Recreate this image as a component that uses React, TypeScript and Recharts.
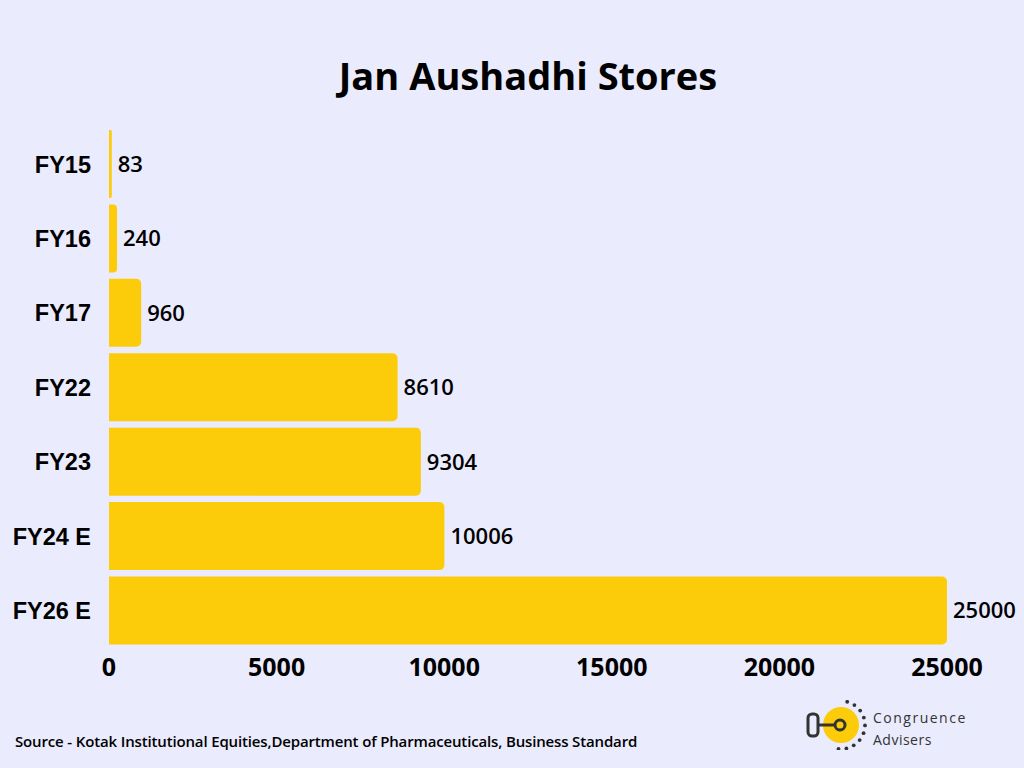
import React from "react";
import { BarChart, Bar, XAxis, YAxis, LabelList } from "recharts";

const categories = ["FY15", "FY16", "FY17", "FY22", "FY23", "FY24 E", "FY26 E"];
const stores = [83, 240, 960, 8610, 9304, 10006, 25000];
const xTicks = [0, 5000, 10000, 15000, 20000, 25000];

const chartData = categories.map((name, i) => ({ name, stores: stores[i] }));

const BG = "#EAEBFD";
const YELLOW = "#FCCC0A";

function Logo() {
  const dots = [];
  for (let i = 0; i < 10; i++) {
    const a = (-75 + i * 19) * (Math.PI / 180);
    dots.push(<circle key={i} cx={36 + Math.cos(a) * 24} cy={25 + Math.sin(a) * 24} r={1.9} fill="#333" />);
  }
  return (
    <svg width={66} height={50}>
      <circle cx={36} cy={25} r={18} fill={YELLOW} />
      {dots}
      <rect x={3} y={14} width={10} height={22} rx={4} fill="none" stroke="#333" strokeWidth={3} />
      <line x1={13} y1={25} x2={31} y2={25} stroke="#333" strokeWidth={3} />
      <circle cx={35} cy={25} r={5} fill="none" stroke="#333" strokeWidth={3} />
    </svg>
  );
}

export default function App() {
  return (
    <div style={{ position: "absolute", left: 0, top: 0, width: 1024, height: 768, background: BG, overflow: "hidden" }}>
      <div
        style={{
          position: "absolute",
          top: 49,
          left: 0,
          width: 1056,
          textAlign: "center",
          fontFamily: "'Open Sans', sans-serif",
          fontWeight: 700,
          fontSize: 38,
          color: "#000",
        }}
      >
        Jan Aushadhi Stores
      </div>
      <BarChart
        width={1024}
        height={768}
        data={chartData}
        layout="vertical"
        margin={{ top: 127, right: 77, bottom: 70, left: 0 }}
        barCategoryGap="4%"
      >
        <XAxis
          type="number"
          domain={[0, 25000]}
          ticks={xTicks}
          axisLine={false}
          tickLine={false}
          tickMargin={4}
          height={50}
          tick={{ fill: "#000", fontSize: 25, fontWeight: 700, fontFamily: "'Open Sans', sans-serif" }}
        />
        <YAxis
          type="category"
          dataKey="name"
          width={109}
          axisLine={false}
          tickLine={false}
          tickMargin={12}
          tick={{ fill: "#000", fontSize: 23.5, fontWeight: 700, fontFamily: "'Liberation Sans', Arial, sans-serif" }}
        />
        <Bar dataKey="stores" fill={YELLOW} radius={[0, 5, 5, 0]} isAnimationActive={false}>
          <LabelList
            dataKey="stores"
            position="right"
            offset={6}
            fill="#000"
            fontSize={22}
            fontWeight={600}
            fontFamily="'Open Sans', sans-serif"
          />
        </Bar>
      </BarChart>
      <div
        style={{
          position: "absolute",
          left: 15,
          top: 731,
          fontFamily: "'Open Sans', sans-serif",
          fontWeight: 600,
          fontSize: 15,
          letterSpacing: -0.15,
          color: "#000",
        }}
      >
        Source - Kotak Institutional Equities,Department of Pharmaceuticals, Business Standard
      </div>
      <div style={{ position: "absolute", left: 805, top: 700 }}>
        <Logo />
      </div>
      <div
        style={{
          position: "absolute",
          left: 873,
          top: 707,
          fontFamily: "'Open Sans', sans-serif",
          fontSize: 14,
          letterSpacing: 1.5,
          color: "#333",
          lineHeight: "22px",
        }}
      >
        <div>Congruence</div>
        <div style={{ letterSpacing: 0.5 }}>Advisers</div>
      </div>
    </div>
  );
}
